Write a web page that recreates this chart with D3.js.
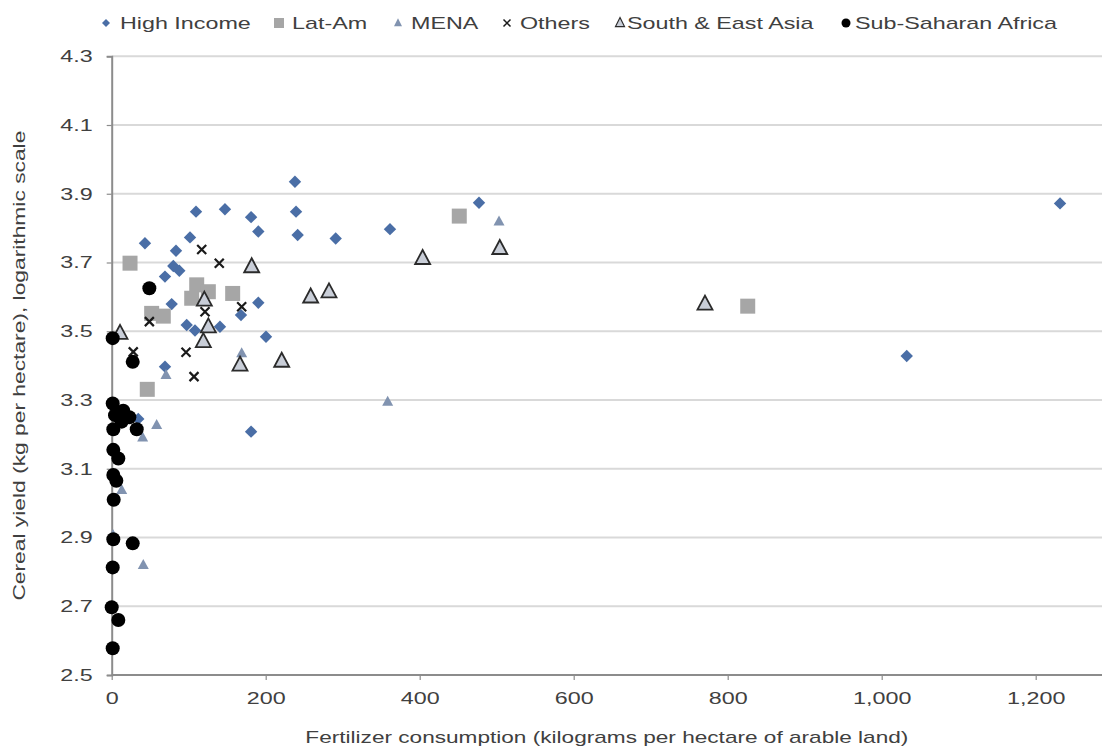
<!DOCTYPE html>
<html><head><meta charset="utf-8">
<script src="https://cdn.jsdelivr.net/npm/d3@7"></script>
<style>body{margin:0;background:#fff}svg{display:block}text{font-family:Arial,"Liberation Sans",sans-serif;fill:#404040}</style>
</head><body><svg id="c" width="1102" height="750"></svg>
<script>
// ---- data (x: fertilizer kg/ha, y: log10 cereal yield) ----
const highIncome = [[238,3.935],[239.4,3.848],[241.5,3.780],[290.9,3.770],[361.4,3.797],[477,3.874],[1231.6,3.872],[1032.5,3.428],[109.5,3.848],[147.1,3.855],[181,3.832],[190.4,3.790],[43.2,3.756],[101.7,3.773],[83.5,3.734],[80,3.690],[87.8,3.676],[69.2,3.659],[190.4,3.583],[167.9,3.547],[77.9,3.579],[97.4,3.518],[108.2,3.502],[140.6,3.513],[200.4,3.484],[69.2,3.397],[34.5,3.245],[181,3.208]];
const latAm = [[451.4,3.835],[826,3.573],[23.8,3.698],[110.4,3.635],[125.5,3.615],[103.9,3.596],[157.1,3.610],[51.9,3.552],[67,3.544],[46.2,3.331]];
const mena = [[503,3.819],[358.4,3.295],[168.8,3.436],[70.5,3.373],[58.4,3.227],[40.2,3.191],[13,3.038],[41,2.820],[1.7,2.907]];
const others = [[116.9,3.738],[139.7,3.698],[121.2,3.557],[168.8,3.571],[48.9,3.528],[28,3.440],[96.5,3.439],[106.9,3.368]];
const southEastAsia = [[504,3.741],[403.8,3.712],[282.2,3.615],[258.4,3.600],[220.8,3.413],[770.5,3.579],[181.8,3.688],[120.3,3.591],[125.5,3.513],[119,3.470],[10.8,3.494],[166.6,3.402]];
const subSaharanAfrica = [[48.9,3.625],[1.3,3.480],[27.3,3.411],[1.3,3.290],[15,3.269],[22.9,3.250],[4.3,3.256],[2.1,3.215],[32.5,3.215],[13,3.237],[2.1,3.155],[8.6,3.130],[2.1,3.082],[6,3.065],[2.6,3.010],[2.1,2.895],[27.3,2.883],[1.3,2.813],[0,2.697],[8.6,2.660],[1.3,2.578]];
const xTicks = [0,200,400,600,800,1000,1200];
const yTicks = [2.5,2.7,2.9,3.1,3.3,3.5,3.7,3.9,4.1,4.3];
const seriesNames = ["High Income","Lat-Am","MENA","Others","South & East Asia","Sub-Saharan Africa"];
const xTitle = "Fertilizer consumption (kilograms per hectare of arable land)";
const yTitle = "Cereal yield (kg per hectare), logarithmic scale";

const svg = d3.select("#c");
const x = d3.scaleLinear().domain([0,1400]).range([111.7, 111.7+0.77*1400]);
const y = d3.scaleLinear().domain([2.5,4.3]).range([675, 56.25]);
const STRETCH = 1.37;
function stretch(sel){ sel.each(function(){ const w=this.getComputedTextLength(); d3.select(this).attr("textLength", w*STRETCH).attr("lengthAdjust","spacingAndGlyphs"); }); }

// gridlines
svg.append("g").selectAll("line").data(yTicks.slice(1)).join("line")
  .attr("x1", x(0)).attr("x2", 1102).attr("y1", d=>y(d)).attr("y2", d=>y(d))
  .attr("stroke","#d9d9d9").attr("stroke-width",2);

// axes
const xa = svg.append("g").attr("transform",`translate(0,${y(2.5)})`)
  .call(d3.axisBottom(x).tickValues(xTicks).tickFormat(d3.format(",")).tickSize(5).tickPadding(12));
xa.select(".domain").remove();
xa.append("line").attr("x1",x(0)).attr("x2",1102).attr("stroke","#8c8c8c").attr("stroke-width",2);
xa.selectAll(".tick line").attr("stroke","#8c8c8c").attr("stroke-width",1.2);
xa.selectAll(".tick text").attr("font-size",17).attr("fill","#404040").attr("font-family","Arial, 'Liberation Sans', sans-serif").call(stretch);

const ya = svg.append("g").attr("transform",`translate(${x(0)},0)`)
  .call(d3.axisLeft(y).tickValues(yTicks).tickFormat(d3.format(".1f")).tickSize(5).tickPadding(14));
ya.select(".domain").attr("stroke","#8c8c8c").attr("stroke-width",2);
ya.selectAll(".tick line").attr("stroke","#8c8c8c").attr("stroke-width",1.2);
ya.selectAll(".tick text").attr("font-size",17).attr("fill","#404040").attr("font-family","Arial, 'Liberation Sans', sans-serif").call(stretch);

// titles
svg.append("text").attr("x",(x(0)+1102)/2).attr("y",743).attr("text-anchor","middle").attr("font-size",17).text(xTitle)
  .attr("textLength",603).attr("lengthAdjust","spacingAndGlyphs");
svg.append("text").attr("transform",`translate(25,${(y(2.5)+y(4.3))/2}) rotate(-90)`).attr("text-anchor","middle").attr("font-size",17).text(yTitle)
  .attr("textLength",470).attr("lengthAdjust","spacingAndGlyphs");

// marker path generators
const diamond = s => `M0,${-s}L${s},0L0,${s}L${-s},0Z`;
const square = s => `M${-s},${-s}H${s}V${s}H${-s}Z`;
const tri = (w,h) => `M0,${-h*0.6}L${w/2},${h*0.4}L${-w/2},${h*0.4}Z`;
const cross = s => `M${-s},${-s}L${s},${s}M${s},${-s}L${-s},${s}`;

const styles = [
  {data:highIncome, d:diamond(6.2), ld:diamond(4), fill:"#4a6ea6", stroke:"none"},
  {data:latAm, d:square(7.5), ld:square(5), fill:"#a6a6a6", stroke:"none"},
  {data:mena, d:tri(11,10), ld:tri(8,8), fill:"#8193b0", stroke:"none"},
  {data:others, d:cross(4.5), ld:cross(3.5), fill:"none", stroke:"#1a1a1a", sw:2.2, lsw:1.5},
  {data:southEastAsia, d:tri(15,14), ld:tri(9,9), fill:"#c9ced8", stroke:"#2b2b2b", sw:1.8, lsw:1.2},
  {data:subSaharanAfrica, circle:7, lcircle:4.5, fill:"#000", stroke:"none"}
];

const plot = svg.append("g");
styles.forEach(s=>{
  const g = plot.append("g");
  if(s.circle){
    g.selectAll("circle").data(s.data).join("circle").attr("cx",d=>x(d[0])).attr("cy",d=>y(d[1])).attr("r",s.circle).attr("fill",s.fill);
  } else {
    g.selectAll("path").data(s.data).join("path").attr("d",s.d)
      .attr("transform",d=>`translate(${x(d[0])},${y(d[1])})`)
      .attr("fill",s.fill).attr("stroke",s.stroke).attr("stroke-width",s.sw||0);
  }
});

// legend
const legX = [106,279,398,507,620,846];
const textX = [120,292,411,520,627,855];
const leg = svg.append("g");
styles.forEach((s,i)=>{
  if(s.circle) leg.append("circle").attr("cx",legX[i]).attr("cy",23).attr("r",s.lcircle).attr("fill",s.fill);
  else leg.append("path").attr("d",s.ld).attr("transform",`translate(${legX[i]},23)`).attr("fill",s.fill).attr("stroke",s.stroke).attr("stroke-width",s.lsw||0);
  leg.append("text").attr("x",textX[i]).attr("y",29).attr("font-size",17).text(seriesNames[i]).call(stretch);
});
</script></body></html>
